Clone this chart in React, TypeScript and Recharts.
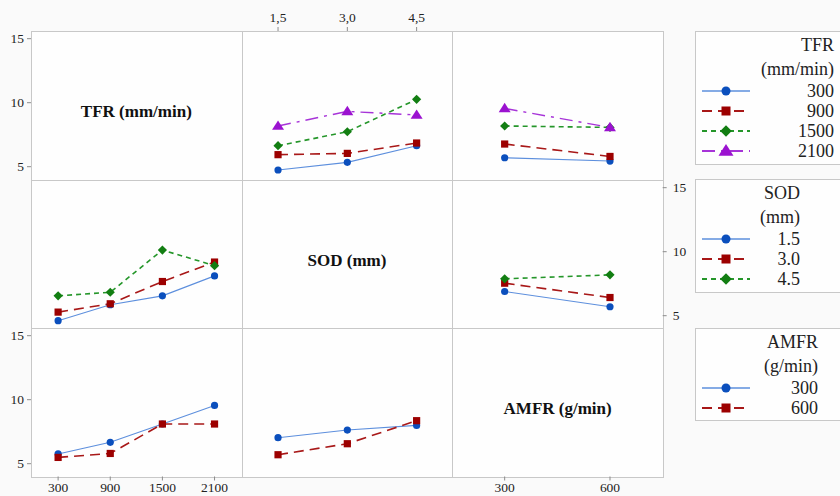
import { Line, LineChart, XAxis, YAxis } from "recharts";

// factor levels
const TFR_LEVELS = [300, 900, 1500, 2100];
const SOD_LEVELS = [1.5, 3.0, 4.5];
const AMFR_LEVELS = [300, 600];

// row 1: TFR as trace factor
const TFR_BY_SOD = [
  [4.74, 5.34, 6.64],
  [5.94, 6.04, 6.85],
  [6.64, 7.73, 10.26],
  [8.18, 9.32, 9.04],
];
const TFR_BY_AMFR = [
  [5.7, 5.44],
  [6.77, 5.8],
  [8.18, 8.07],
  [9.55, 8.07],
];

// row 2: SOD as trace factor
const SOD_BY_TFR = [
  [4.61, 5.86, 6.55, 8.11],
  [5.28, 5.93, 7.67, 9.19],
  [6.55, 6.83, 10.13, 8.91],
];
const SOD_BY_AMFR = [
  [6.89, 5.7],
  [7.54, 6.42],
  [7.88, 8.19],
];

// row 3: AMFR as trace factor
const AMFR_BY_TFR = [
  [5.76, 6.67, 8.1, 9.55],
  [5.49, 5.8, 8.1, 8.1],
];
const AMFR_BY_SOD = [
  [7.03, 7.63, 7.99],
  [5.7, 6.56, 8.36],
];

const Y_TICKS = [5, 10, 15];
const Y_DOMAIN: [number, number] = [4, 15.6];
const TFR_DOMAIN: [number, number] = [-12, 2412];
const SOD_DOMAIN: [number, number] = [0.72, 5.28];
const AMFR_DOMAIN: [number, number] = [150, 750];

const TFR_LEGEND = ["300", "900", "1500", "2100"];
const SOD_LEGEND = ["1.5", "3.0", "4.5"];
const AMFR_LEGEND = ["300", "600"];

const SERIF = "Liberation Serif";
const X0 = 31;
const Y0 = 31;
const CW = 210.67;
const RH = 148.5;
const GRID = "#c8c8c8";

type Shape = "circle" | "square" | "diamond" | "triangle";

const STYLES: { line: string; fill: string; dash?: string; width: number; shape: Shape }[] = [
  { line: "#5d8fdd", fill: "#0b4fbd", width: 1.1, shape: "circle" },
  { line: "#a81818", fill: "#9c0000", dash: "10 6", width: 1.6, shape: "square" },
  { line: "#25962a", fill: "#127e12", dash: "5 4", width: 1.6, shape: "diamond" },
  { line: "#a734d8", fill: "#9b12d0", dash: "13 6 3 6", width: 1.4, shape: "triangle" },
];

function Marker({ cx, cy, shape, color, k = 1 }: { cx?: number; cy?: number; shape: Shape; color: string; k?: number }) {
  if (cx == null || cy == null) return null;
  if (shape === "circle") return <circle cx={cx} cy={cy} r={3.6 * k} fill={color} />;
  if (shape === "square") {
    const h = 3.6 * k;
    return <rect x={cx - h} y={cy - h} width={2 * h} height={2 * h} fill={color} />;
  }
  if (shape === "diamond") {
    const d = 4.6 * k;
    return <polygon points={`${cx},${cy - d} ${cx + d},${cy} ${cx},${cy + d} ${cx - d},${cy}`} fill={color} />;
  }
  const w = 6 * k;
  return <polygon points={`${cx},${cy - 5.6 * k} ${cx + w},${cy + 3.8 * k} ${cx - w},${cy + 3.8 * k}`} fill={color} />;
}

interface PanelProps {
  row: number;
  col: number;
  xLevels: number[];
  series: number[][];
  xDomain: [number, number];
  left?: boolean;
  right?: boolean;
  top?: boolean;
  bottom?: boolean;
  xFormat?: (v: number) => string;
}

const tickStyle = { fontFamily: SERIF, fontSize: 13.5, fill: "#222" };

function Panel({ row, col, xLevels, series, xDomain, left, right, top, bottom, xFormat }: PanelProps) {
  const data = xLevels.map((x, i) => {
    const r: Record<string, number> = { x };
    series.forEach((s, k) => (r[`s${k}`] = s[i]));
    return r;
  });
  const lw = left ? 31 : 0;
  const rw = right ? 32 : 0;
  const th = top ? 31 : 0;
  const bh = bottom ? 20 : 0;
  const px = X0 + col * CW;
  const py = Y0 + row * RH;
  return (
    <div style={{ position: "absolute", left: px - lw, top: py - th }}>
      <LineChart width={CW + lw + rw} height={RH + th + bh} data={data} margin={{ top: 0, right: 0, bottom: 0, left: 0 }}>
        <XAxis
          dataKey="x"
          type="number"
          domain={xDomain}
          allowDataOverflow
          ticks={xLevels}
          interval={0}
          hide={!top && !bottom}
          orientation={top ? "top" : "bottom"}
          height={top ? 31 : 20}
          tickSize={4}
          tickMargin={top ? 5 : 2}
          axisLine={false}
          tickLine={{ stroke: "#8c8c8c" }}
          tick={tickStyle}
          tickFormatter={xFormat}
        />
        <YAxis
          type="number"
          domain={Y_DOMAIN}
          allowDataOverflow
          ticks={Y_TICKS}
          interval={0}
          hide={!left && !right}
          orientation={right ? "right" : "left"}
          width={right ? 32 : 31}
          tickSize={4}
          tickMargin={right ? 6 : 3}
          axisLine={false}
          tickLine={{ stroke: "#8c8c8c" }}
          tick={tickStyle}
        />
        {series.map((_, k) => {
          const st = STYLES[k];
          return (
            <Line
              key={k}
              dataKey={`s${k}`}
              type="linear"
              stroke={st.line}
              strokeWidth={st.width}
              strokeDasharray={st.dash}
              isAnimationActive={false}
              activeDot={false}
              dot={(p: any) => <Marker key={p.index} cx={p.cx} cy={p.cy} shape={st.shape} color={st.fill} />}
            />
          );
        })}
      </LineChart>
    </div>
  );
}

function DiagLabel({ row, col, text }: { row: number; col: number; text: string }) {
  return (
    <div
      style={{
        position: "absolute",
        left: X0 + col * CW,
        top: Y0 + row * RH + 7,
        width: CW,
        height: RH,
        display: "flex",
        alignItems: "center",
        justifyContent: "center",
        fontFamily: SERIF,
        fontWeight: 700,
        fontSize: 17,
        color: "#111",
      }}
    >
      {text}
    </div>
  );
}

function Legend({ top, height, title, items, textRight }: { top: number; height: number; title: string[]; items: string[]; textRight: number }) {
  return (
    <div
      style={{
        position: "absolute",
        left: 695,
        top,
        width: 200,
        height,
        boxSizing: "border-box",
        border: `1px solid ${GRID}`,
        background: "#fefefe",
        paddingTop: 1,
        fontFamily: SERIF,
        fontSize: 18,
        color: "#222",
      }}
    >
      {title.map((t) => (
        <div key={t} style={{ width: textRight, textAlign: "right", lineHeight: "24px", height: 24 }}>
          {t}
        </div>
      ))}
      {items.map((t, k) => {
        const st = STYLES[k];
        return (
          <div key={t} style={{ position: "relative", width: textRight, height: 20, lineHeight: "20px", textAlign: "right" }}>
            <svg width={50} height={20} style={{ position: "absolute", left: 5, top: 0 }}>
              <line x1={1} y1={10} x2={49} y2={10} stroke={st.line} strokeWidth={st.width + 0.4} strokeDasharray={st.dash} />
              <Marker cx={25} cy={10} shape={st.shape} color={st.fill} k={1.25} />
            </svg>
            {t}
          </div>
        );
      })}
    </div>
  );
}

const comma = (v: number) => v.toFixed(1).replace(".", ",");

export default function App() {
  return (
    <div
      style={{
        position: "absolute",
        left: 0,
        top: 0,
        width: 840,
        height: 496,
        overflow: "hidden",
        background: "#fafafa",
        fontFamily: SERIF,
      }}
    >
      <div
        style={{
          position: "absolute",
          left: X0,
          top: Y0,
          width: CW * 3 + 1,
          height: RH * 3 + 1,
          boxSizing: "border-box",
          border: `1px solid ${GRID}`,
          background: "#fefefe",
        }}
      />
      {[1, 2].map((i) => (
        <div key={`v${i}`} style={{ position: "absolute", left: X0 + i * CW, top: Y0, width: 1, height: RH * 3, background: GRID }} />
      ))}
      {[1, 2].map((i) => (
        <div key={`h${i}`} style={{ position: "absolute", left: X0, top: Y0 + i * RH, width: CW * 3, height: 1, background: GRID }} />
      ))}

      <Panel row={0} col={0} xLevels={TFR_LEVELS} series={[]} xDomain={TFR_DOMAIN} left />
      <Panel row={0} col={1} xLevels={SOD_LEVELS} series={TFR_BY_SOD} xDomain={SOD_DOMAIN} top xFormat={comma} />
      <Panel row={0} col={2} xLevels={AMFR_LEVELS} series={TFR_BY_AMFR} xDomain={AMFR_DOMAIN} />

      <Panel row={1} col={0} xLevels={TFR_LEVELS} series={SOD_BY_TFR} xDomain={TFR_DOMAIN} />
      <Panel row={1} col={2} xLevels={AMFR_LEVELS} series={SOD_BY_AMFR} xDomain={AMFR_DOMAIN} right />

      <Panel row={2} col={0} xLevels={TFR_LEVELS} series={AMFR_BY_TFR} xDomain={TFR_DOMAIN} left bottom />
      <Panel row={2} col={1} xLevels={SOD_LEVELS} series={AMFR_BY_SOD} xDomain={SOD_DOMAIN} />
      <Panel row={2} col={2} xLevels={AMFR_LEVELS} series={[]} xDomain={AMFR_DOMAIN} bottom />

      <DiagLabel row={0} col={0} text="TFR (mm/min)" />
      <DiagLabel row={1} col={1} text="SOD (mm)" />
      <DiagLabel row={2} col={2} text="AMFR (g/min)" />

      <Legend top={31} height={134} title={["TFR", "(mm/min)"]} items={TFR_LEGEND} textRight={138} />
      <Legend top={179} height={114} title={["SOD", "(mm)"]} items={SOD_LEGEND} textRight={104} />
      <Legend top={328} height={93} title={["AMFR", "(g/min)"]} items={AMFR_LEGEND} textRight={122} />
    </div>
  );
}
